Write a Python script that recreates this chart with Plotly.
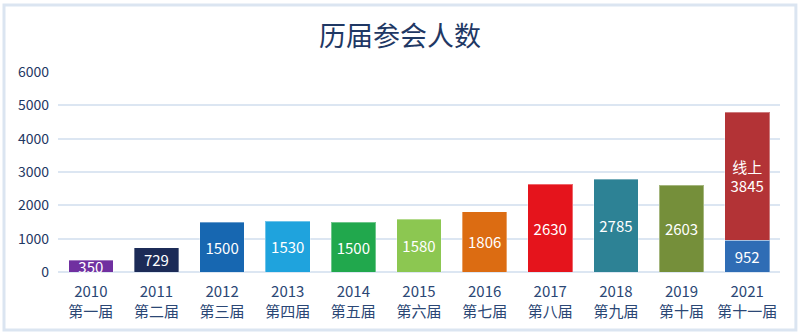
import plotly.graph_objects as go

years = ["2010", "2011", "2012", "2013", "2014", "2015", "2016", "2017", "2018", "2019", "2021"]
sessions = ["第一届", "第二届", "第三届", "第四届", "第五届", "第六届", "第七届", "第八届", "第九届", "第十届", "第十一届"]
offline = [350, 729, 1500, 1530, 1500, 1580, 1806, 2630, 2785, 2603, 952]
online = [None, None, None, None, None, None, None, None, None, None, 3845]
online_label = "线上"
bar_colors = ["#7030a0", "#1c2b57", "#1767b1", "#1fa3dd", "#21a84d", "#8cc751",
              "#dc6c12", "#e5141c", "#2d8295", "#758f3a", "#2f6db5"]
online_color = "#b33336"
y_ticks = [0, 1000, 2000, 3000, 4000, 5000, 6000]

cats = [f"{y}<br>{s}" for y, s in zip(years, sessions)]
font_family = "Noto Sans CJK SC, Noto Sans, sans-serif"

fig = go.Figure()
fig.add_trace(go.Bar(
    x=cats, y=offline,
    marker=dict(color=bar_colors, line=dict(color="rgba(255,255,255,0.35)", width=1)),
    text=[str(v) for v in offline], textposition="inside", insidetextanchor="middle",
    textfont=dict(color="white", size=15, family=font_family),
    cliponaxis=False,
    width=0.68, hoverinfo="skip",
))
fig.add_trace(go.Bar(
    x=cats, y=online,
    marker=dict(color=online_color, line=dict(color="rgba(255,255,255,0.35)", width=1)),
    text=[f"{online_label}<br>{v}" if v else "" for v in online],
    textposition="inside", insidetextanchor="middle",
    textfont=dict(color="white", size=15, family=font_family),
    width=0.68, hoverinfo="skip",
))

fig.update_layout(
    barmode="stack",
    width=800, height=333,
    margin=dict(l=58, r=20, t=72, b=61),
    paper_bgcolor="white", plot_bgcolor="white",
    showlegend=False,
    uniformtext=dict(minsize=15, mode="show"),
    font=dict(family=font_family, color="#1f3864"),
    title=dict(text="历届参会人数", x=0.5, xanchor="center", y=0.89, yanchor="middle",
               font=dict(size=27, color="#1f3864", family=font_family)),
    xaxis=dict(showgrid=False, showline=False, ticks="", ticklabelstandoff=9,
               tickfont=dict(size=15, color="#2b4775", family=font_family)),
    yaxis=dict(range=[0, 6000], tickvals=y_ticks, showgrid=True, gridcolor="#dce6f2", gridwidth=2,
               zeroline=True, zerolinecolor="#dce6f2", zerolinewidth=2, showline=False,
               tickfont=dict(size=14, color="#1f3864", family=font_family), ticklabelstandoff=8),
    shapes=[dict(type="rect", xref="paper", yref="paper",
                 x0=-0.0748, x1=1.022, y0=-0.29, y1=1.335,
                 line=dict(color="#dbe5f1", width=3), fillcolor="rgba(0,0,0,0)", layer="below")],
)

fig.write_html("out.html")
